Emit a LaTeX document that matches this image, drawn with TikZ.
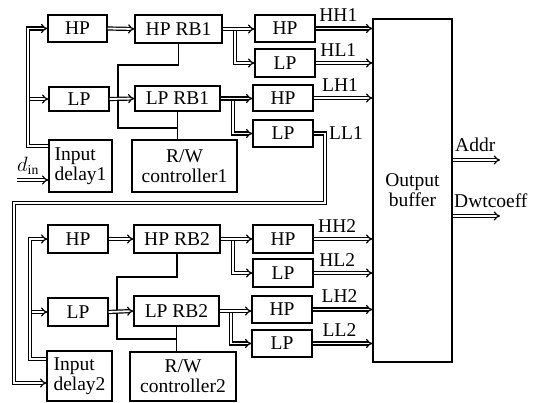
\documentclass[tikz,border=0pt]{standalone}
\usepackage{fontspec}
\setmainfont{Liberation Serif}
\usetikzlibrary{arrows.meta,calc}
\begin{document}
\begin{tikzpicture}[x=1pt,y=-1pt,
  txt/.style={font=\fontsize{19.5}{20}\selectfont},
  box/.style={draw,line width=1.3pt,inner sep=0pt,txt},
  wh/.style 2 args={minimum width=#1pt,minimum height=#2pt},
  bus/.style={draw,line width=1.2pt,double distance=1.8pt,-{Implies[scale=1.8]},line join=miter},
  ctl/.style={draw,line width=1.1pt},
  lbl/.style={txt,inner sep=0pt}]
\useasboundingbox (0,0) rectangle (536,403);
% ---------- top half ----------
\node[box,wh={59}{27}] (hp1) at (77.5,28.5) {HP};
\node[box,wh={87}{28}] (hprb1) at (178.5,29) {HP RB1};
\node[box,wh={60}{24}] (lp1) at (79,99) {LP};
\node[box,wh={85}{25}] (lprb1) at (177.5,98.5) {LP RB1};
\node[box,wh={63}{52},align=left] (ind1) at (80.5,166) {Input\\delay1};
\node[box,wh={105}{52},align=center] (rw1) at (184.5,166) {R/W\\controller1};
\node[box,wh={60}{27}] (hh1) at (285,28.5) {HP};
\node[box,wh={60}{28}] (hl1) at (285,63) {LP};
\node[box,wh={60}{26}] (lh1) at (283,98) {HP};
\node[box,wh={60}{27}] (ll1) at (283,133.5) {LP};
\node[box,wh={79}{343},align=center] (out) at (412.5,190.5) {Output\\buffer};
% ---------- bottom half ----------
\node[box,wh={60}{28}] (hp2) at (78,239) {HP};
\node[box,wh={86}{28}] (hprb2) at (177,239) {HP RB2};
\node[box,wh={60}{28}] (lp2) at (78,312) {LP};
\node[box,wh={85}{30}] (lprb2) at (176.5,311) {LP RB2};
\node[box,wh={65}{50},align=left] (ind2) at (79.5,376) {Input\\delay2};
\node[box,wh={106}{49},align=center] (rw2) at (183,376.5) {R/W\\controller2};
\node[box,wh={60}{28}] (hh2) at (283,239) {HP};
\node[box,wh={60}{28}] (hl2) at (283,273) {LP};
\node[box,wh={60}{27}] (lh2) at (282,309.5) {HP};
\node[box,wh={60}{27}] (ll2) at (282,343.5) {LP};
% ---------- coordinates ----------
\coordinate (bus1) at (28,28.5);
\coordinate (bus2) at (30,239);
\coordinate (din) at (17,180);
\coordinate (fbA) at (325,203);
\coordinate (fbB) at (14,383);
\coordinate (k1) at (118,65);
\coordinate (k2) at (118,128);
\coordinate (k3) at (117,277);
\coordinate (k4) at (117,339);
\coordinate (br1) at (235,29);
\coordinate (br2) at (233,98.5);
\coordinate (br3) at (233,239);
\coordinate (br4) at (231,311);
\coordinate (addrE) at (500,160);
\coordinate (dwtE) at (500,216);
% ---------- control lines ----------
\draw[ctl] (hprb1.south) |- (k1) |- (lprb1.south |- k2);
\draw[ctl] (lprb1.south) -- (lprb1.south |- rw1.north);
\draw[ctl] (hprb2.south) |- (k3) |- (lprb2.south |- k4);
\draw[ctl] (lprb2.south) -- (lprb2.south |- rw2.north);
% ---------- input buses ----------
\draw[bus] (bus1 |- lp1.west) -- (lp1.west);
\draw[bus] ([yshift=-7pt]ind1.north west) -| (bus1) -- (hp1.west);
\draw[bus] (din) -- (din -| ind1.west);
\node[txt] (dinl) at (28,166) {$d_{\mathrm{in}}$};
\draw[bus] (bus2 |- lp2.west) -- (lp2.west);
\draw[bus] ([yshift=-9pt]ind2.north west) -| (bus2) -- (hp2.west);
% ---------- filter to RB ----------
\draw[bus] (hp1.east) -- (hprb1.west);
\draw[bus] (lp1.east) -- (lprb1.west);
\draw[bus] (hp2.east) -- (hprb2.west);
\draw[bus] (lp2.east) -- (lprb2.west);
% ---------- RB to second filters ----------
\draw[bus] (br1) |- (hl1.west);
\draw[bus] (hprb1.east) -- (hprb1.east -| hh1.west);
\draw[bus] (br2) |- (ll1.west);
\draw[bus] (lprb1.east) -- (lprb1.east -| lh1.west);
\draw[bus] (br3) |- (hl2.west);
\draw[bus] (hprb2.east) -- (hprb2.east -| hh2.west);
\draw[bus] (br4) |- (ll2.west);
\draw[bus] (lprb2.east) -- (lprb2.east -| lh2.west);
% ---------- to output buffer ----------
\draw[bus] (hh1.east) -- (hh1.east -| out.west) node[lbl,above=6pt,pos=0.4] {HH1};
\draw[bus] (hl1.east) -- (hl1.east -| out.west) node[lbl,above=6pt,pos=0.4] {HL1};
\draw[bus] (lh1.east) -- (lh1.east -| out.west) node[lbl,above=6pt,pos=0.45] {LH1};
\draw[bus] (hh2.east) -- (hh2.east -| out.west) node[lbl,above=6pt,pos=0.4] {HH2};
\draw[bus] (hl2.east) -- (hl2.east -| out.west) node[lbl,above=6pt,pos=0.4] {HL2};
\draw[bus] (lh2.east) -- (lh2.east -| out.west) node[lbl,above=6pt,pos=0.45] {LH2};
\draw[bus] (ll2.east) -- (ll2.east -| out.west) node[lbl,above=6pt,pos=0.45] {LL2};
% ---------- LL1 feedback ----------
\draw[bus] (ll1.east) -| (fbA) -| (fbB) -- (fbB -| ind2.west);
\node[lbl,anchor=west] (ll1l) at (329,133) {LL1};
% ---------- outputs ----------
\draw[bus] (out.east |- addrE) -- (addrE);
\node[lbl,anchor=base west] (addrl) at (455,152) {Addr};
\draw[bus] (out.east |- dwtE) -- (dwtE);
\node[lbl,anchor=base west] (dwtl) at (454,208) {Dwtcoeff};
\end{tikzpicture}
\end{document}
